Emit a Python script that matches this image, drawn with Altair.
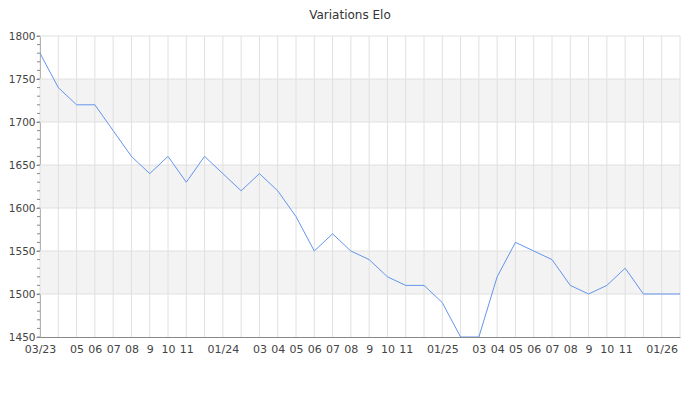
import altair as alt
import pandas as pd

months = ["2023-03","2023-04","2023-05","2023-06","2023-07","2023-08","2023-09","2023-10","2023-11","2023-12",
          "2024-01","2024-02","2024-03","2024-04","2024-05","2024-06","2024-07","2024-08","2024-09","2024-10","2024-11","2024-12",
          "2025-01","2025-02","2025-03","2025-04","2025-05","2025-06","2025-07","2025-08","2025-09","2025-10","2025-11","2025-12",
          "2026-01","2026-02"]
elo = [1780,1740,1720,1720,1690,1660,1640,1660,1630,1660,
       1640,1620,1640,1620,1590,1550,1570,1550,1540,1520,1510,1510,
       1490,1450,1450,1520,1560,1550,1540,1510,1500,1510,1530,1500,
       1500,1500]
tick_labels = ["03/23","","05","06","07","08","9","10","11","",
               "01/24","","03","04","05","06","07","08","9","10","11","",
               "01/25","","03","04","05","06","07","08","9","10","11","",
               "01/26",""]
band_low = [1700, 1600, 1500]
band_high = [1750, 1650, 1550]

df = pd.DataFrame({"idx": list(range(len(months))), "month": months, "elo": elo})
bands = pd.DataFrame({"lo": band_low, "hi": band_high})

n = len(months)
label_expr = "[" + ",".join("'%s'" % s for s in tick_labels) + "][datum.value]"

xscale = alt.Scale(domain=[0, n - 1], nice=False, zero=False)
yscale = alt.Scale(domain=[1450, 1800], nice=False, zero=False)

font = "DejaVu Sans"

xaxis = alt.Axis(values=list(range(n)), labelExpr=label_expr, title=None,
                 grid=False, ticks=False, domainColor="#888888", labelColor="#444444",
                 labelFont=font, labelFontSize=11, labelPadding=6, labelOverlap=False,
                 labelFlush=False)
yaxis = alt.Axis(values=[1450, 1500, 1550, 1600, 1650, 1700, 1750, 1800], title=None, format="d",
                 grid=False, tickSize=4, tickColor="#888888", domainColor="#888888",
                 labelColor="#444444", labelFont=font, labelFontSize=10.5, labelPadding=1)

band_layer = alt.Chart(bands).mark_rect(color="#f3f3f3").encode(
    y=alt.Y("lo:Q", scale=yscale, axis=yaxis),
    y2="hi:Q",
    x=alt.value(0),
    x2=alt.value(640),
)

grid_x = alt.Chart(df).mark_rule(color="#e0e0e0", strokeWidth=1).encode(
    x=alt.X("idx:Q", scale=xscale, axis=xaxis),
    y=alt.value(0), y2=alt.value(301),
)

grid_y = alt.Chart(pd.DataFrame({"v": [1500, 1550, 1600, 1650, 1700, 1750, 1800]})).mark_rule(
    color="#e0e0e0", strokeWidth=1).encode(
    y=alt.Y("v:Q", scale=yscale, axis=yaxis),
    x=alt.value(0), x2=alt.value(640),
)

minor = alt.Chart(pd.DataFrame({"v": list(range(1450, 1801, 10))})).mark_rule(
    color="#888888", strokeWidth=1).encode(
    y=alt.Y("v:Q", scale=yscale, axis=yaxis),
    x=alt.value(-3), x2=alt.value(0),
)

line = alt.Chart(df).mark_line(color="#6495ed", strokeWidth=1, clip=True).encode(
    x=alt.X("idx:Q", scale=xscale, axis=xaxis),
    y=alt.Y("elo:Q", scale=yscale, axis=yaxis),
)

chart = alt.layer(band_layer, grid_x, grid_y, minor, line).properties(
    width=640, height=301,
    title=alt.TitleParams("Variations Elo", font=font, fontSize=12, fontWeight="normal",
                          color="#333333", dx=-10, offset=9),
    autosize=alt.AutoSizeParams(type="none"),
    padding={"left": 32, "top": 28, "right": 12, "bottom": 55},
).configure_view(stroke=None)

chart.save("out.html", embed_options={"renderer": "svg", "actions": False})
